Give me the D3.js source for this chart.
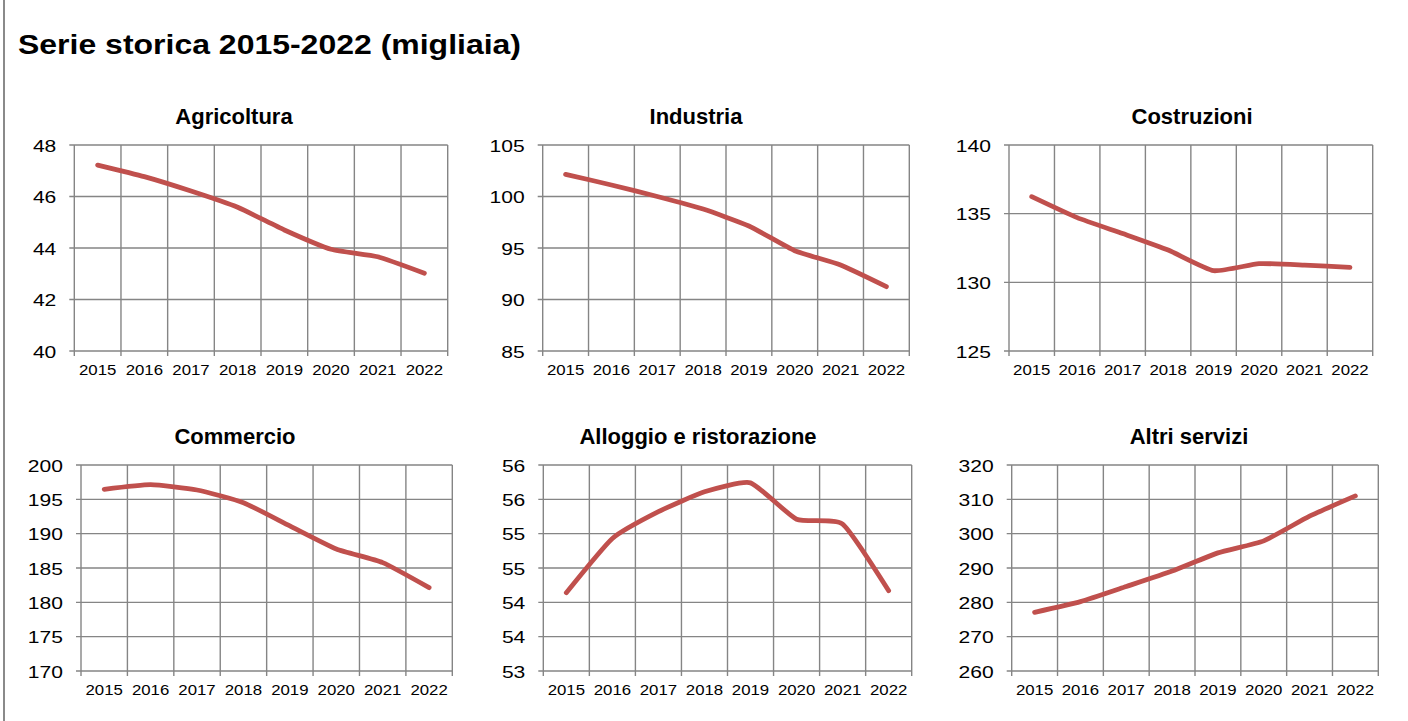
<!DOCTYPE html>
<html><head><meta charset="utf-8">
<script src="https://cdn.jsdelivr.net/npm/d3@7"></script>
<style>body{margin:0;background:#fff} svg{display:block} text{font-family:"Liberation Sans",Arial,sans-serif;fill:#000}</style>
</head><body><svg id="c" width="1408" height="721"></svg>
<script>
const years = ["2015","2016","2017","2018","2019","2020","2021","2022"];
const agricoltura = [47.22, 46.77, 46.21, 45.58, 44.70, 43.95, 43.66, 43.02];
const industria   = [102.15, 101.12, 100.0, 98.78, 97.14, 94.74, 93.35, 91.25];
const costruzioni = [136.24, 134.71, 133.55, 132.35, 130.85, 131.36, 131.26, 131.09];
const commercio   = [196.46, 197.14, 196.36, 194.51, 191.12, 187.77, 185.78, 182.14];
const alloggio    = [54.14, 54.93, 55.32, 55.61, 55.74, 55.21, 55.14, 54.17];
const altriServizi= [277.1, 280.2, 284.6, 289.1, 294.4, 297.9, 305.1, 311.0];

const ticksAgricoltura = [40, 42, 44, 46, 48];
const ticksIndustria   = [85, 90, 95, 100, 105];
const ticksCostruzioni = [125, 130, 135, 140];
const ticksCommercio   = [170, 175, 180, 185, 190, 195, 200];
const ticksAlloggio    = [53, 53.5, 54, 54.5, 55, 55.5, 56];
const ticksAltri       = [260, 270, 280, 290, 300, 310, 320];

const titles = ["Agricoltura","Industria","Costruzioni","Commercio","Alloggio e ristorazione","Altri servizi"];
const mainTitle = "Serie storica 2015-2022 (migliaia)";

const panels = [
  {title:titles[0], values:agricoltura, ticks:ticksAgricoltura, x0:74.3, x1:447.7, y0:145, y1:351, tx:234},
  {title:titles[1], values:industria,   ticks:ticksIndustria,   x0:542.7, x1:909.3, y0:145, y1:351, tx:696},
  {title:titles[2], values:costruzioni, ticks:ticksCostruzioni, x0:1009, x1:1372.7, y0:145, y1:351, tx:1192},
  {title:titles[3], values:commercio,   ticks:ticksCommercio,   x0:81, x1:452.3, y0:465, y1:671, tx:235},
  {title:titles[4], values:alloggio,    ticks:ticksAlloggio,    x0:543.3, x1:911.7, y0:465, y1:671, tx:698},
  {title:titles[5], values:altriServizi,ticks:ticksAltri,       x0:1011.7, x1:1378.3, y0:465, y1:671, tx:1189}
];

const svg = d3.select("#c");
svg.append("rect").attr("width",1408).attr("height",721).attr("fill","#fff");
svg.append("line").attr("x1",4).attr("x2",4).attr("y1",0).attr("y2",721)
  .attr("stroke","#8a8a8a").attr("stroke-width",2);

svg.append("text").attr("x",18).attr("y",54)
  .attr("font-size",28).attr("font-weight","bold")
  .attr("textLength",503).attr("lengthAdjust","spacingAndGlyphs")
  .text(mainTitle);

const gridColor = "#858585";
const lineColor = "#C0504D";
const XS = 1.2, YS = 1.24;

panels.forEach(p => {
  const g = svg.append("g");
  const x = d3.scaleBand().domain(years).range([p.x0, p.x1]);
  const y = d3.scaleLinear().domain([p.ticks[0], p.ticks[p.ticks.length-1]]).range([p.y1, p.y0]);

  g.selectAll("line.h").data(p.ticks).join("line")
    .attr("x1", p.x0 - 5).attr("x2", p.x1)
    .attr("y1", d => y(d)).attr("y2", d => y(d))
    .attr("stroke", gridColor).attr("stroke-width", 1.4);

  const bounds = years.map(d => x(d)).concat([p.x1]);
  g.selectAll("line.v").data(bounds).join("line")
    .attr("x1", d => d).attr("x2", d => d)
    .attr("y1", p.y0).attr("y2", p.y1 + 5)
    .attr("stroke", gridColor).attr("stroke-width", 1.4);

  const ya = g.append("g").attr("transform", `translate(${p.x0},0)`)
    .call(d3.axisLeft(y).tickValues(p.ticks).tickFormat(d3.format(".0f")).tickSize(0).tickPadding(0));
  ya.select(".domain").remove();
  ya.selectAll("text").attr("font-size", 17).attr("font-family", null)
    .attr("x", -18 / YS).attr("transform", `scale(${YS},1)`).attr("dy", "0.36em");

  const xa = g.append("g").attr("transform", `translate(0,${p.y1})`)
    .call(d3.axisBottom(x).tickSize(0).tickPadding(14));
  xa.select(".domain").remove();
  xa.selectAll("text").attr("font-size", 14).attr("font-family", null)
    .attr("transform", `scale(${XS},1)`);

  const line = d3.line()
    .x((d, i) => x(years[i]) + x.bandwidth() / 2)
    .y(d => y(d))
    .curve(d3.curveCardinal.tension(0.5));
  g.append("path").datum(p.values).attr("d", line)
    .attr("fill", "none").attr("stroke", lineColor).attr("stroke-width", 4.8)
    .attr("stroke-linecap", "round").attr("stroke-linejoin", "round");

  g.append("text").attr("x", p.tx).attr("y", p.y0 - 21)
    .attr("text-anchor", "middle").attr("font-size", 22).attr("font-weight", "bold")
    .text(p.title);
});
</script></body></html>
